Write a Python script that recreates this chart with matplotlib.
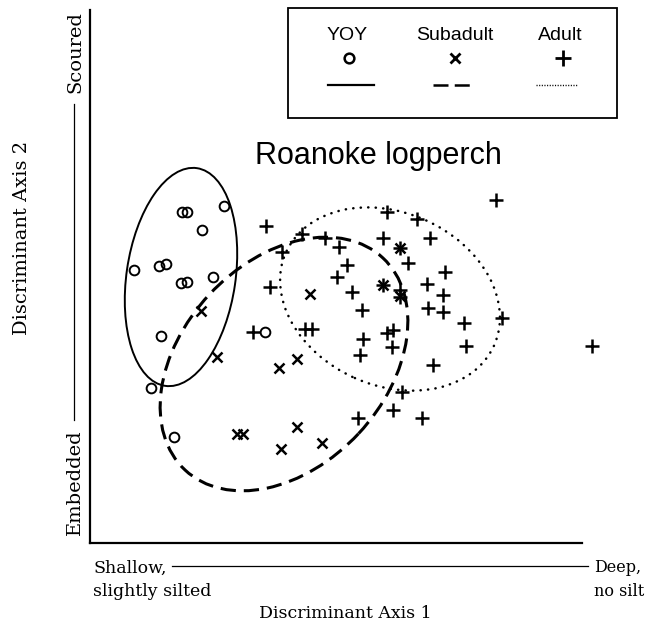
import matplotlib
matplotlib.use("Agg")
import matplotlib.pyplot as plt
from matplotlib.patches import Ellipse, Rectangle
from matplotlib.lines import Line2D

# ---- data (discriminant scores, arbitrary units) ----
yoy_x = [92, 97, 134, 112, 44, 69, 76, 91, 97, 123, 71, 61, 84, 175]
yoy_y = [331, 331, 337, 313, 273, 277, 279, 260, 261, 266, 207, 155, 106, 211]

sub_x = [111, 127, 220, 293, 207, 189, 207, 191, 232, 147, 153, 310, 310]
sub_y = [232, 186, 249, 258, 184, 175, 116, 94, 100, 109, 109, 295, 247]

adult_x = [176, 212, 192, 235, 249, 257, 247, 262, 180, 297, 327, 293, 340, 310,
           318, 355, 337, 293, 310, 310, 353, 338, 353, 272, 406, 374, 412, 376,
           502, 163, 215, 222, 273, 270, 297, 303, 302, 343, 312, 303, 332, 268]
adult_y = [317, 309, 291, 305, 296, 278, 266, 251, 256, 331, 324, 305, 305, 295,
           280, 271, 259, 258, 253, 246, 248, 235, 231, 233, 343, 220, 225, 197,
           197, 211, 214, 214, 204, 188, 210, 213, 196, 178, 151, 133, 125, 125]

# group ellipses: centre x, centre y, width, height, angle
ell_yoy = (91, 266, 220, 109, 81.7)
ell_sub = (194, 179, 290, 204, 47)
ell_adult = (300, 244, 228, 173, -24)

group_names = ["YOY", "Subadult", "Adult"]

# ---- figure ----
W, H = 645, 628
fig = plt.figure(figsize=(W / 100, H / 100), dpi=100)
ax = fig.add_axes([90 / W, 85 / H, 492 / W, 533 / H])
ax.set_xlim(0, 492)
ax.set_ylim(0, 533)
for s in ["top", "right"]:
    ax.spines[s].set_visible(False)
for s in ["left", "bottom"]:
    ax.spines[s].set_linewidth(1.6)
ax.set_xticks([])
ax.set_yticks([])

ax.plot(yoy_x, yoy_y, "o", mfc="none", mec="black", ms=7, mew=1.4, clip_on=False)
ax.plot(sub_x, sub_y, "x", color="black", ms=7, mew=1.8, clip_on=False)
ax.plot(adult_x, adult_y, "+", color="black", ms=10, mew=1.8, clip_on=False)

def add_ell(p, **kw):
    e = Ellipse((p[0], p[1]), p[2], p[3], angle=p[4], fill=False,
                edgecolor="black", **kw)
    ax.add_patch(e)

add_ell(ell_yoy, lw=1.4, linestyle="-")
add_ell(ell_sub, lw=2.2, linestyle=(0, (5, 2.6)))
add_ell(ell_adult, lw=1.8, linestyle=(0, (0.1, 2.9)), capstyle="round")

def fx(px):
    return px / W

def fy(py):
    return 1 - py / H

# ---- legend box ----
fig.add_artist(Rectangle((fx(288), fy(118)), 329 / W, 110 / H,
                         transform=fig.transFigure, fill=False, lw=1.3,
                         edgecolor="black"))
leg_font = dict(family="Liberation Sans", fontsize=14, ha="center", va="center")
fig.text(fx(347), fy(35), group_names[0], **leg_font)
fig.text(fx(455), fy(35), group_names[1], **leg_font)
fig.text(fx(560), fy(35), group_names[2], **leg_font)
fig.add_artist(Line2D([fx(349)], [fy(58)], marker="o", mfc="none", mec="black",
                      ms=7, mew=1.8, transform=fig.transFigure))
fig.add_artist(Line2D([fx(455)], [fy(58)], marker="x", color="black",
                      ms=6.5, mew=2.0, transform=fig.transFigure))
fig.add_artist(Line2D([fx(563)], [fy(58)], marker="+", color="black",
                      ms=11, mew=2.0, transform=fig.transFigure))
fig.add_artist(Line2D([fx(328), fx(374)], [fy(85), fy(85)], color="black",
                      lw=1.6, transform=fig.transFigure))
fig.add_artist(Line2D([fx(433), fx(475)], [fy(85), fy(85)], color="black",
                      lw=1.8, linestyle=(0, (6, 2.5)), transform=fig.transFigure))
fig.add_artist(Line2D([fx(536), fx(578)], [fy(85), fy(85)], color="black",
                      lw=1.0, linestyle=(0, (0.8, 1.1)), transform=fig.transFigure))

# ---- handwritten species label ----
fig.text(fx(255), fy(156), "Roanoke logperch", family="Liberation Sans",
         fontsize=22, ha="left", va="center")

# ---- axis labels ----
serif_x = dict(family="DejaVu Serif", fontsize=12.5)
serif_r = dict(family="DejaVu Serif", fontsize=11.5)
serif_y = dict(family="DejaVu Serif", fontsize=14)
fig.text(fx(93), fy(568), "Shallow,", ha="left", va="center", **serif_x)
fig.text(fx(93), fy(591), "slightly silted", ha="left", va="center", **serif_x)
fig.text(fx(594), fy(568), "Deep,", ha="left", va="center", **serif_r)
fig.text(fx(594), fy(591), "no silt", ha="left", va="center", **serif_r)
fig.text(fx(345), fy(613), "Discriminant Axis 1", ha="center", va="center", **serif_x)
fig.add_artist(Line2D([fx(172), fx(588)], [fy(566), fy(566)], color="black",
                      lw=0.9, transform=fig.transFigure))

fig.text(fx(75), fy(52), "Scoured", rotation=90, ha="center", va="center", **serif_y)
fig.text(fx(75), fy(482), "Embedded", rotation=90, ha="center", va="center", **serif_y)
fig.text(fx(22), fy(238), "Discriminant Axis 2", rotation=90, ha="center",
         va="center", **serif_y)
fig.add_artist(Line2D([fx(74), fx(74)], [fy(104), fy(420)], color="black",
                      lw=0.9, transform=fig.transFigure))

fig.savefig("out.png", dpi=100)
